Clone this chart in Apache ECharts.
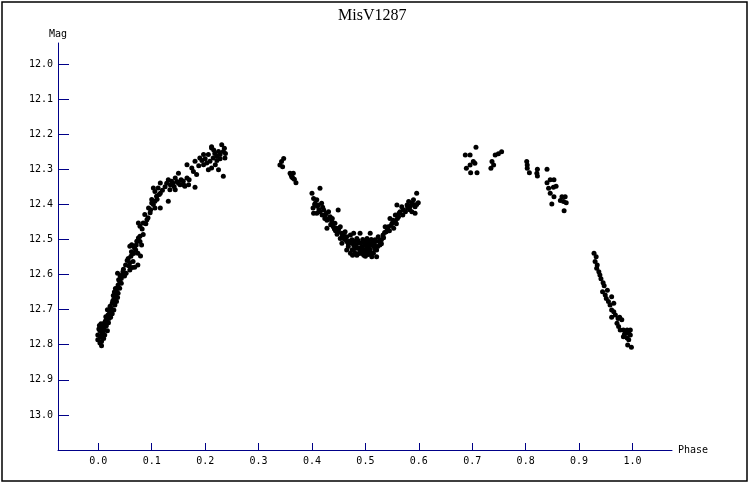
<!DOCTYPE html>
<html>
<head>
<meta charset="utf-8">
<script src="https://cdn.jsdelivr.net/npm/echarts@6/dist/echarts.min.js"></script>
<style>html,body{margin:0;padding:0;background:#fff;}#c{width:753px;height:485px;}</style>
</head>
<body>
<div id="c"></div>
<script>
// ---- data: [phase, magnitude] ----
const riseBranch = [
[0.078,12.506],[0.071,12.516],[0.081,12.516],[0.068,12.525],[0.074,12.539],[0.079,12.547],[0.062,12.535],[0.056,12.554],
[0.065,12.563],[0.059,12.566],[0.074,12.573],[0.068,12.579],[0.051,12.573],[0.059,12.587],[0.046,12.592],[0.036,12.596],
[0.052,12.596],[0.043,12.611],[0.049,12.604],[0.040,12.620],[0.043,12.625],[0.037,12.630],[0.040,12.639],[0.034,12.649],
[0.037,12.653],[0.031,12.658],[0.036,12.665],[0.029,12.670],[0.034,12.677],[0.026,12.682],[0.031,12.687],[0.024,12.696],
[0.029,12.701],[0.021,12.706],[0.026,12.712],[0.018,12.715],[0.023,12.722],[0.015,12.729],[0.019,12.737],[0.011,12.739],
[0.015,12.746],[0.006,12.750],[0.011,12.756],[0.017,12.760],[0.003,12.760],[0.007,12.767],[-0.001,12.772],[0.012,12.772],
[0.004,12.779],[-0.001,12.786],[0.006,12.791],[0.006,12.803],
[0.002,12.745],[0.009,12.748],[0.013,12.733],[0.020,12.725],[0.017,12.700],[0.022,12.690],[0.027,12.675],[0.033,12.662],
[0.028,12.660],[0.032,12.640],[0.038,12.615],[0.045,12.600],[0.024,12.710],[0.001,12.755],[0.008,12.770],[0.010,12.782],[0.003,12.795],
[0.054,12.560],[0.061,12.548],[0.066,12.540],[0.070,12.530],[0.057,12.575],[0.063,12.580],[0.047,12.585],[0.041,12.605],
[0.035,12.640],[0.030,12.650],[0.025,12.700],[0.014,12.720],[0.010,12.760],[0.005,12.740]
];
const shoulderBranch = [
[0.0625,12.515],[0.072,12.505],[0.078,12.491],[0.075,12.496],[0.084,12.486],[0.067,12.519],[0.059,12.519],[0.078,12.462],
[0.084,12.453],[0.075,12.453],[0.091,12.444],[0.087,12.429],[0.097,12.424],[0.094,12.410],[0.106,12.410],[0.100,12.396],
[0.116,12.410],[0.106,12.391],[0.100,12.386],[0.109,12.377],[0.131,12.391],[0.116,12.368],[0.106,12.363],[0.112,12.353],
[0.103,12.353],[0.116,12.339],[0.131,12.330],[0.137,12.334],[0.144,12.325],[0.150,12.311],[0.134,12.358],[0.144,12.358],
[0.153,12.344],[0.159,12.334],[0.166,12.325],[0.162,12.348],[0.169,12.344],[0.181,12.351],[0.166,12.287],[0.175,12.296],
[0.181,12.277],[0.178,12.306],[0.184,12.315],[0.190,12.268],[0.197,12.258],[0.206,12.258],[0.212,12.239],[0.197,12.287],
[0.203,12.282],[0.209,12.277],[0.215,12.268],[0.206,12.301],[0.212,12.296],[0.222,12.263],[0.228,12.258],[0.231,12.230],
[0.225,12.249],[0.234,12.249],[0.237,12.268],[0.219,12.287],[0.225,12.301],[0.234,12.320],[0.212,12.236],
[0.128,12.340],[0.140,12.340],[0.147,12.335],[0.155,12.330],[0.160,12.345],[0.135,12.345],[0.142,12.350],[0.170,12.330],
[0.150,12.340],[0.120,12.360],[0.125,12.350],[0.188,12.290],[0.194,12.275],[0.200,12.270],[0.218,12.255],[0.222,12.275],
[0.228,12.270],[0.216,12.245],[0.238,12.255],[0.236,12.240],
[0.082,12.470],[0.089,12.455],[0.093,12.438],[0.098,12.415],[0.103,12.400],[0.110,12.385],[0.114,12.372]
];
const gapPoints = [
[0.347,12.269],[0.343,12.278],[0.340,12.288],[0.345,12.293],[0.359,12.311],[0.365,12.311],[0.362,12.321],[0.367,12.328],
[0.370,12.338],[0.361,12.316],[0.364,12.325]
];
const dipBranch = [
[0.400,12.368],[0.415,12.354],[0.403,12.383],[0.409,12.387],[0.406,12.397],[0.412,12.402],[0.418,12.397],[0.403,12.425],
[0.409,12.425],[0.415,12.421],[0.422,12.416],[0.425,12.430],[0.431,12.421],[0.434,12.435],[0.449,12.416],[0.428,12.468],
[0.437,12.449],[0.443,12.454],[0.440,12.464],[0.446,12.468],[0.453,12.464],[0.449,12.478],[0.456,12.482],[0.462,12.478],
[0.453,12.497],[0.459,12.497],[0.465,12.492],[0.472,12.487],[0.478,12.482],[0.456,12.511],[0.465,12.506],[0.475,12.501],
[0.484,12.497],[0.490,12.482],[0.468,12.520],[0.478,12.516],[0.487,12.511],[0.497,12.506],[0.503,12.497],[0.509,12.482],
[0.465,12.530],[0.475,12.530],[0.484,12.525],[0.494,12.520],[0.503,12.516],[0.512,12.511],[0.518,12.501],[0.524,12.492],
[0.472,12.539],[0.481,12.539],[0.490,12.535],[0.500,12.539],[0.509,12.530],[0.515,12.539],[0.521,12.530],[0.527,12.516],
[0.530,12.501],[0.533,12.487],[0.539,12.478],[0.543,12.464],[0.537,12.464],[0.550,12.454],[0.546,12.440],[0.556,12.449],
[0.553,12.468],[0.556,12.430],[0.562,12.435],[0.565,12.421],[0.568,12.407],[0.575,12.421],[0.578,12.402],[0.581,12.392],
[0.587,12.397],[0.590,12.387],[0.587,12.421],[0.593,12.425],[0.596,12.368],[0.593,12.407],[0.559,12.402],[0.512,12.549],
[0.521,12.549],[0.484,12.545],[0.500,12.548],[0.494,12.540],[0.506,12.543],[0.424,12.440],[0.419,12.430],[0.438,12.440],
[0.444,12.475],[0.460,12.490],[0.470,12.505],[0.488,12.525],[0.497,12.530],[0.506,12.524],[0.515,12.520],[0.526,12.505],
[0.534,12.495],[0.541,12.470],[0.548,12.460],[0.560,12.440],[0.571,12.415],[0.584,12.405],[0.590,12.400],[0.599,12.395],
[0.402,12.410],[0.410,12.405],[0.428,12.445],[0.435,12.458],[0.447,12.485],
[0.462,12.500],[0.468,12.512],[0.474,12.510],[0.479,12.505],[0.482,12.515],[0.486,12.503],[0.491,12.510],[0.495,12.500],
[0.499,12.515],[0.502,12.525],[0.505,12.505],[0.508,12.515],[0.511,12.500],[0.514,12.510],[0.517,12.515],[0.520,12.505],
[0.523,12.520],[0.478,12.528],[0.492,12.528],[0.503,12.535],[0.518,12.528],[0.488,12.540],[0.497,12.545],[0.510,12.540],
[0.476,12.545],[0.530,12.512],[0.536,12.480],[0.545,12.475],[0.552,12.445],[0.558,12.455],[0.563,12.425],[0.570,12.430],
[0.579,12.410],[0.583,12.415],[0.596,12.400],[0.405,12.400],[0.413,12.415],[0.420,12.408],[0.427,12.425],[0.432,12.440],
[0.439,12.455],[0.442,12.470],[0.450,12.470],[0.457,12.490]
];
const humpPoints = [
[0.687,12.259],[0.696,12.259],[0.707,12.237],[0.702,12.278],[0.705,12.283],[0.696,12.288],[0.689,12.297],[0.697,12.310],
[0.709,12.310],[0.743,12.259],[0.749,12.256],[0.755,12.250],[0.737,12.278],[0.740,12.288],[0.735,12.297]
];
const declineBranch = [
[0.802,12.278],[0.803,12.288],[0.803,12.297],[0.807,12.310],[0.822,12.300],[0.821,12.311],[0.822,12.319],[0.840,12.300],
[0.840,12.338],[0.846,12.330],[0.853,12.330],[0.843,12.354],[0.852,12.351],[0.857,12.348],[0.846,12.368],[0.853,12.378],
[0.849,12.399],[0.868,12.378],[0.874,12.378],[0.865,12.389],[0.871,12.392],[0.876,12.395],[0.872,12.418]
];
const fallBranch = [
[0.928,12.539],[0.932,12.549],[0.930,12.563],[0.934,12.573],[0.933,12.582],[0.937,12.592],[0.939,12.601],[0.945,12.623],
[0.947,12.632],[0.944,12.649],[0.949,12.658],[0.951,12.668],[0.961,12.663],[0.955,12.677],[0.958,12.687],[0.965,12.682],
[0.961,12.701],[0.965,12.706],[0.961,12.722],[0.973,12.725],[0.976,12.722],[0.980,12.729],[0.971,12.739],[0.974,12.748],
[0.977,12.758],[0.983,12.758],[0.990,12.758],[0.996,12.758],[0.987,12.767],[0.993,12.767],[0.996,12.772],[0.983,12.777],
[0.990,12.781],[0.993,12.786],[0.991,12.801],[0.998,12.807],[0.941,12.612],[0.953,12.645],[0.968,12.715],[0.985,12.770]
];
const xTicks = [0.0,0.1,0.2,0.3,0.4,0.5,0.6,0.7,0.8,0.9,1.0];
const yTicks = [12.0,12.1,12.2,12.3,12.4,12.5,12.6,12.7,12.8,12.9,13.0];

const allPoints = [].concat(riseBranch, shoulderBranch, gapPoints, dipBranch, humpPoints, declineBranch, fallBranch);
const axisColor = '#000088';
const tickFont = {color:'#000', fontFamily:'DejaVu Sans Mono', fontSize:10};

const chart = echarts.init(document.getElementById('c'), null, {renderer:'canvas'});
chart.setOption({
  backgroundColor:'#fff',
  animation:false,
  title:{text:'MisV1287', left:333, top:3,
    textStyle:{fontFamily:'Liberation Serif', fontSize:16, fontWeight:'normal', color:'#000'}},
  grid:{left:58, right:81, top:43, bottom:35},
  graphic:[{type:'rect', shape:{x:2, y:2, width:745, height:479},
    style:{fill:'none', stroke:'#000', lineWidth:1.5}, silent:true}],
  xAxis:{type:'value', min:-0.0755, max:1.074,
    name:'Phase', nameLocation:'end', nameGap:6,
    nameTextStyle:Object.assign({align:'left', verticalAlign:'middle'}, tickFont),
    axisLine:{show:true, onZero:false, lineStyle:{color:axisColor, width:1}},
    axisTick:{show:true, inside:true, length:7, lineStyle:{color:axisColor}, customValues:xTicks},
    axisLabel:Object.assign({customValues:xTicks, margin:6, formatter:v=>Number(v).toFixed(1)}, tickFont),
    splitLine:{show:false}},
  yAxis:{type:'value', inverse:true, min:11.94, max:13.1,
    name:'Mag', nameLocation:'start', nameGap:9,
    nameTextStyle:Object.assign({align:'center', verticalAlign:'middle'}, tickFont),
    axisLine:{show:true, onZero:false, lineStyle:{color:axisColor, width:1}},
    axisTick:{show:true, inside:true, length:11, lineStyle:{color:axisColor}, customValues:yTicks},
    axisLabel:Object.assign({customValues:yTicks, margin:5, formatter:v=>Number(v).toFixed(1)}, tickFont),
    splitLine:{show:false}},
  series:[{type:'scatter', data:allPoints, symbol:'circle', symbolSize:5,
    itemStyle:{color:'#000', opacity:1}}]
});
</script>
</body>
</html>
